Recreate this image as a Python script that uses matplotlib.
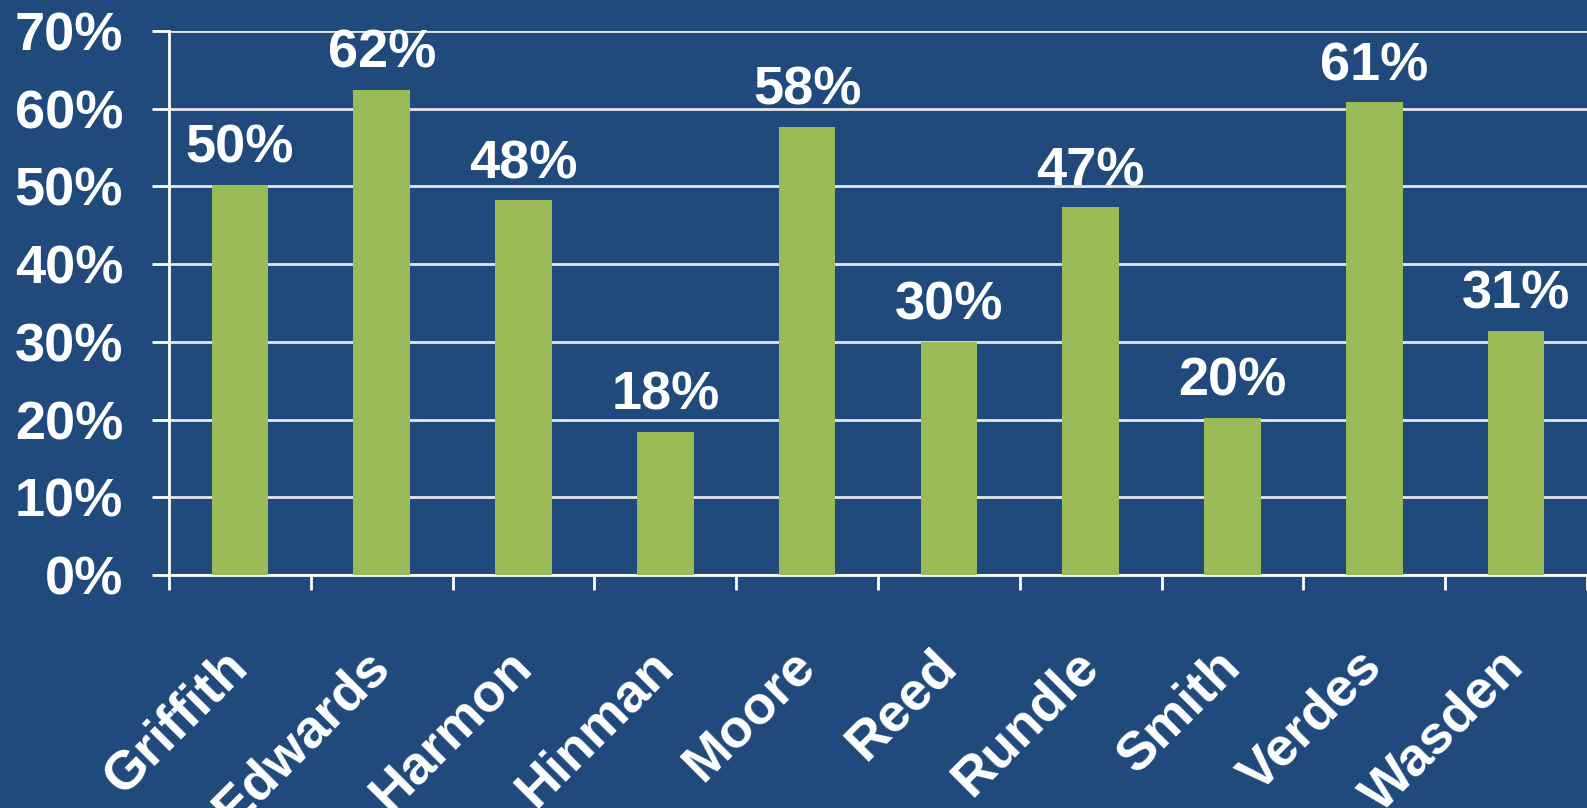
import numpy as np
import matplotlib
matplotlib.use('Agg')
import matplotlib.pyplot as plt

names = ['Griffith', 'Edwards', 'Harmon', 'Hinman', 'Moore',
         'Reed', 'Rundle', 'Smith', 'Verdes', 'Wasden']
values = [50.2, 62.4, 48.2, 18.4, 57.7, 30.0, 47.3, 20.2, 60.8, 31.4]
yticks = [0, 10, 20, 30, 40, 50, 60, 70]

bg = '#204A7C'
green = '#9BBB59'

plt.rcParams['font.family'] = ['Liberation Sans', 'DejaVu Sans']
plt.rcParams['font.weight'] = 'bold'

fig = plt.figure(figsize=(15.87, 8.08), dpi=100, facecolor=bg)
ax = fig.add_axes([169 / 1587, 1 - 575 / 808, 1 - 169 / 1587, (575 - 31) / 808])
ax.set_facecolor(bg)

x = np.arange(len(names))
ax.bar(x, values, width=0.4, color=green, zorder=3)

# value labels above bars
for xi, v in zip(x, values):
    ax.annotate(f'{round(v)}%', (xi, v), xytext=(0, 8), textcoords='offset points',
                ha='center', va='bottom', color='white', fontsize=39, fontweight='bold')

ax.set_xlim(-0.5, len(names) - 0.5)
ax.set_ylim(0, 70)
ax.set_yticks(yticks)
ax.set_yticklabels([f'{t}%' for t in yticks], color='white', fontsize=39, fontweight='bold')
ax.yaxis.grid(True, color='#E8E8E8', linewidth=2, zorder=0)

# tick marks between categories, names on minor ticks
ax.set_xticks(np.arange(-0.5, len(names), 1.0))
ax.set_xticklabels([])
ax.set_xticks(x, minor=True)
ax.set_xticklabels(names, minor=True, rotation=45, ha='right', va='center',
                   rotation_mode='anchor', color='white', fontsize=39, fontweight='bold')
ax.tick_params(axis='x', which='minor', length=0, pad=60)
ax.tick_params(axis='x', which='major', length=11, width=2, color='white', direction='out')
ax.tick_params(axis='y', length=12, width=2, color='white', pad=21)

for s in ['top', 'right']:
    ax.spines[s].set_visible(False)
for s in ['left', 'bottom']:
    ax.spines[s].set_color('white')
    ax.spines[s].set_linewidth(2)

fig.savefig('out.png', dpi=100, facecolor=bg)
